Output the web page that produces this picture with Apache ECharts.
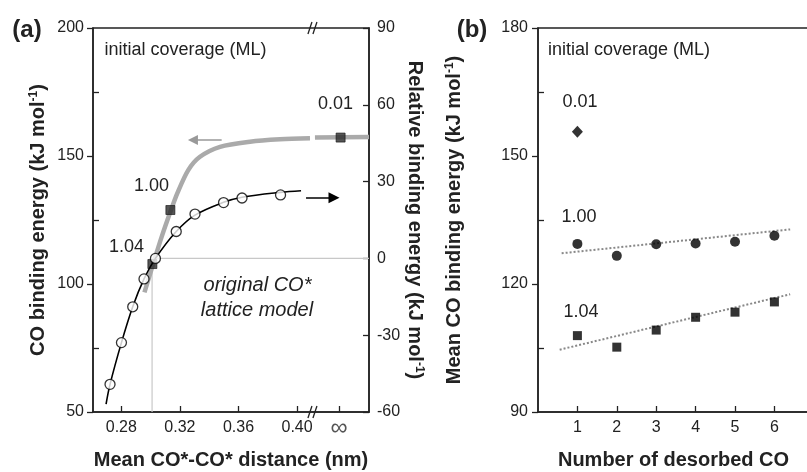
<!DOCTYPE html>
<html>
<head>
<meta charset="utf-8">
<script src="https://cdn.jsdelivr.net/npm/echarts@6/dist/echarts.min.js"></script>
<style>
html, body { margin: 0; padding: 0; background: #fff; }
#chart { width: 807px; height: 472px; }
</style>
</head>
<body>
<div id="chart"></div>
<script>
// (a) grey thick curve: CO binding energy vs mean CO*-CO* distance (left axis, kJ/mol)
var grayX = [0.2958, 0.3030, 0.3076, 0.3132, 0.3182, 0.3257, 0.3337, 0.3474, 0.3679, 0.3883, 0.4088];
var grayE = [96.7, 110.2, 118.5, 127.7, 135.4, 144.5, 149.7, 153.6, 155.6, 156.5, 156.9];
// grey line continued after the axis break (towards infinity)
var grayTailX = [0.4122, 0.4491];
var grayTailE = [157.2, 157.4];
// (a) black fitted curve, relative binding energy (right axis)
var fitX = [0.2696, 0.2723, 0.2801, 0.2878, 0.2955, 0.3033, 0.3175, 0.3303, 0.3498, 0.3624, 0.3887, 0.4027];
var fitRel = [-56.9, -49.2, -32.9, -18.9, -8.0, 0.0, 10.5, 16.9, 21.9, 23.9, 25.8, 26.4];
// (a) open circles, relative binding energy (right axis)
var circleX = [0.2723, 0.2801, 0.2878, 0.2955, 0.3033, 0.3175, 0.3303, 0.3498, 0.3624, 0.3887];
var circleRel = [-49.2, -32.9, -18.9, -8.0, 0.0, 10.5, 17.3, 21.8, 23.6, 24.8];
// (a) filled squares at initial coverages 1.04, 1.00, 0.01 ML (left axis)
var squareX = [0.3012, 0.3135, 0.4297];
var squareE = [107.8, 128.9, 157.2];
// (a) thin guide lines for the original lattice model
var guideX = [0.3010, 0.3010, 0.4491];
var guideE = [50, 110, 110];
// (a) x ticks, last one stands for infinity
var aTickValues = [0.28, 0.32, 0.36, 0.40, 0.4286];
var aTickLabels = ['0.28', '0.32', '0.36', '0.40', '\u221e'];
var breakX = 0.4115;

// (b) mean CO binding energy vs number of desorbed CO
var desorbed = [1, 2, 3, 4, 5, 6];
var cov001 = [155.7];
var cov100 = [129.4, 126.6, 129.3, 129.5, 129.9, 131.3];
var cov104 = [107.9, 105.2, 109.2, 112.2, 113.4, 115.8];
var trend100X = [0.6, 6.4];
var trend100 = [127.2, 132.8];
var trend104X = [0.55, 6.4];
var trend104 = [104.6, 117.6];

var FONT = 'Arial, "Liberation Sans", sans-serif';
var INK = '#222';

function pairs(xs, ys) {
    var out = [];
    for (var i = 0; i < xs.length; i++) out.push([xs[i], ys[i]]);
    return out;
}

function axisBase() {
    return {
        axisLine: { onZero: false, lineStyle: { color: INK, width: 1.5 } },
        splitLine: { show: false },
        axisLabel: { color: INK, fontFamily: FONT, fontSize: 16 }
    };
}

function titleStyle() {
    return {
        color: INK, fontFamily: FONT, fontSize: 20, fontWeight: 'bold',
        rich: { sup: { fontSize: 12, fontWeight: 'bold', fontFamily: FONT, color: INK, verticalAlign: 'top', lineHeight: 10 } }
    };
}

function breakMark(params, api) {
    var p = api.coord([api.value(0), api.value(1)]);
    var st = { stroke: INK, lineWidth: 1.3 };
    return {
        type: 'group',
        children: [
            { type: 'line', shape: { x1: p[0] - 6, y1: p[1] + 6, x2: p[0] - 2, y2: p[1] - 6 }, style: st },
            { type: 'line', shape: { x1: p[0] - 1, y1: p[1] + 6, x2: p[0] + 3, y2: p[1] - 6 }, style: st }
        ]
    };
}

var chart = echarts.init(document.getElementById('chart'), null, { renderer: 'canvas' });

var xA = axisBase();
xA.gridIndex = 0; xA.type = 'value'; xA.min = 0.26068; xA.max = 0.44908;
xA.axisTick = { inside: true, length: 6, customValues: aTickValues, lineStyle: { color: INK, width: 1.3 } };
xA.axisLabel.customValues = aTickValues;
xA.axisLabel.margin = 8;
xA.axisLabel.formatter = function (v) {
    for (var i = 0; i < aTickValues.length; i++) {
        if (Math.abs(v - aTickValues[i]) < 1e-6) return i === aTickValues.length - 1 ? '{inf|' + aTickLabels[i] + '}' : aTickLabels[i];
    }
    return '';
};
xA.axisLabel.rich = { inf: { fontSize: 24, color: '#555', fontFamily: FONT, lineHeight: 16 } };
xA.name = 'Mean CO*-CO* distance (nm)'; xA.nameLocation = 'middle'; xA.nameGap = 38;
xA.nameTextStyle = titleStyle();

var xB = axisBase();
xB.gridIndex = 1; xB.type = 'value'; xB.min = 0; xB.max = 6.878;
xB.axisTick = { inside: true, length: 6, customValues: desorbed, lineStyle: { color: INK, width: 1.3 } };
xB.axisLabel.customValues = desorbed;
xB.axisLabel.margin = 8;
xB.name = 'Number of desorbed CO'; xB.nameLocation = 'middle'; xB.nameGap = 38;
xB.nameTextStyle = titleStyle();

var yA = axisBase();
yA.gridIndex = 0; yA.position = 'left'; yA.min = 50; yA.max = 200; yA.interval = 50;
yA.axisTick = { inside: false, length: 6, lineStyle: { color: INK, width: 1.3 } };
yA.axisLabel.margin = 9;
yA.name = 'CO binding energy (kJ mol{sup|-1})'; yA.nameLocation = 'middle'; yA.nameGap = 45;
yA.nameTextStyle = titleStyle();

var yAminor = {
    gridIndex: 0, position: 'left', min: 50, max: 200,
    axisLine: { show: false, onZero: false }, splitLine: { show: false }, axisLabel: { show: false },
    axisTick: { inside: true, length: 6, customValues: [75, 125, 175], lineStyle: { color: INK, width: 1.3 } }
};

var yARel = axisBase();
yARel.gridIndex = 0; yARel.position = 'right'; yARel.min = -60; yARel.max = 90; yARel.interval = 30;
yARel.axisTick = { inside: true, length: 6, lineStyle: { color: INK, width: 1.3 } };
yARel.axisLabel.margin = 8;
yARel.name = 'Relative binding energy (kJ mol{sup|-1})'; yARel.nameLocation = 'middle'; yARel.nameGap = 36;
yARel.nameRotate = -90;
yARel.nameTextStyle = titleStyle();

var yB = axisBase();
yB.gridIndex = 1; yB.position = 'left'; yB.min = 90; yB.max = 180; yB.interval = 30;
yB.axisTick = { inside: false, length: 6, lineStyle: { color: INK, width: 1.3 } };
yB.axisLabel.margin = 10;
yB.name = 'Mean CO binding energy (kJ mol{sup|-1})'; yB.nameLocation = 'middle'; yB.nameGap = 74;
yB.nameTextStyle = titleStyle();

var yBminor = {
    gridIndex: 1, position: 'left', min: 90, max: 180,
    axisLine: { show: false, onZero: false }, splitLine: { show: false }, axisLabel: { show: false },
    axisTick: { inside: true, length: 6, customValues: [105, 135, 165], lineStyle: { color: INK, width: 1.3 } }
};

function txt(x, y, s, size, extra) {
    var st = { text: s, x: x, y: y, fill: INK, font: (extra || '') + ' ' + size + 'px ' + FONT, textAlign: 'center', textVerticalAlign: 'middle' };
    return { type: 'text', style: st, z: 50 };
}

var option = {
    animation: false,
    backgroundColor: '#fff',
    grid: [
        { left: 93, top: 28, width: 276, height: 384, show: true, borderColor: INK, borderWidth: 1.5, backgroundColor: 'transparent', outerBoundsMode: 'none' },
        { left: 538, top: 28, width: 271, height: 384, show: true, borderColor: INK, borderWidth: 1.5, backgroundColor: 'transparent', outerBoundsMode: 'none' }
    ],
    xAxis: [xA, xB],
    yAxis: [yA, yAminor, yARel, yB, yBminor],
    graphic: [
        txt(27, 30, '(a)', 24, 'bold'),
        txt(472, 30, '(b)', 24, 'bold'),
        txt(185.5, 50, 'initial coverage (ML)', 18),
        txt(629, 50, 'initial coverage (ML)', 18),
        txt(335.5, 104, '0.01', 18),
        txt(151.5, 186, '1.00', 18),
        txt(126.5, 247, '1.04', 18),
        txt(257.5, 285, 'original CO*', 20, 'italic'),
        txt(257, 310, 'lattice model', 20, 'italic'),
        txt(580, 102, '0.01', 18),
        txt(579, 217, '1.00', 18),
        txt(581, 312, '1.04', 18)
    ],
    series: [
        // thin guide lines
        { type: 'line', xAxisIndex: 0, yAxisIndex: 0, data: pairs(guideX, guideE), symbol: 'none',
          lineStyle: { color: '#c8c8c8', width: 1.2 }, z: 1 },
        // grey thick curve
        { type: 'line', xAxisIndex: 0, yAxisIndex: 0, data: pairs(grayX, grayE), symbol: 'none', smooth: 0.3,
          lineStyle: { color: '#aaaaaa', width: 4.5 }, z: 2 },
        { type: 'line', xAxisIndex: 0, yAxisIndex: 0, data: pairs(grayTailX, grayTailE), symbol: 'none',
          lineStyle: { color: '#aaaaaa', width: 4.5 }, z: 2 },
        // squares
        { type: 'scatter', xAxisIndex: 0, yAxisIndex: 0, data: pairs(squareX, squareE), symbol: 'rect', symbolSize: 9,
          itemStyle: { color: '#2a2a2a', borderColor: '#111', borderWidth: 0.8 }, z: 3 },
        // black fit curve
        { type: 'line', xAxisIndex: 0, yAxisIndex: 2, data: pairs(fitX, fitRel), symbol: 'none', smooth: 0.35,
          lineStyle: { color: '#000', width: 1.6 }, z: 4 },
        // open circles
        { type: 'scatter', xAxisIndex: 0, yAxisIndex: 2, data: pairs(circleX, circleRel), symbol: 'circle', symbolSize: 10,
          itemStyle: { color: '#fff', borderColor: '#000', borderWidth: 1.3 }, z: 5 },
        // arrows pointing to the axis each curve belongs to
        { type: 'lines', coordinateSystem: 'cartesian2d', xAxisIndex: 0, yAxisIndex: 0, symbol: ['none', 'triangle'], symbolSize: [6, 10],
          lineStyle: { color: '#999', width: 1.6, opacity: 1 }, data: [{ coords: [[0.3485, 156.25], [0.3289, 156.25]] }], z: 6 },
        { type: 'lines', coordinateSystem: 'cartesian2d', xAxisIndex: 0, yAxisIndex: 2, symbol: ['none', 'triangle'], symbolSize: [8, 11],
          lineStyle: { color: '#000', width: 1.6, opacity: 1 }, data: [{ coords: [[0.4061, 23.7], [0.4252, 23.7]] }], z: 6 },
        // axis break marks
        { type: 'custom', xAxisIndex: 0, yAxisIndex: 0, renderItem: breakMark, data: [[breakX, 50], [breakX, 200]], z: 10, silent: true },
        // (b) trend lines
        { type: 'line', xAxisIndex: 1, yAxisIndex: 3, data: pairs(trend100X, trend100), symbol: 'none',
          lineStyle: { color: '#888', width: 2, type: [2, 2] }, z: 2 },
        { type: 'line', xAxisIndex: 1, yAxisIndex: 3, data: pairs(trend104X, trend104), symbol: 'none',
          lineStyle: { color: '#888', width: 2, type: [2, 2] }, z: 2 },
        // (b) markers
        { type: 'scatter', xAxisIndex: 1, yAxisIndex: 3, data: pairs([1], cov001), symbol: 'diamond', symbolSize: [11, 12],
          itemStyle: { color: '#000' }, z: 3 },
        { type: 'scatter', xAxisIndex: 1, yAxisIndex: 3, data: pairs(desorbed, cov100), symbol: 'circle', symbolSize: 10,
          itemStyle: { color: '#000' }, z: 3 },
        { type: 'scatter', xAxisIndex: 1, yAxisIndex: 3, data: pairs(desorbed, cov104), symbol: 'rect', symbolSize: 9,
          itemStyle: { color: '#000' }, z: 3 }
    ]
};

chart.setOption(option);
</script>
</body>
</html>
